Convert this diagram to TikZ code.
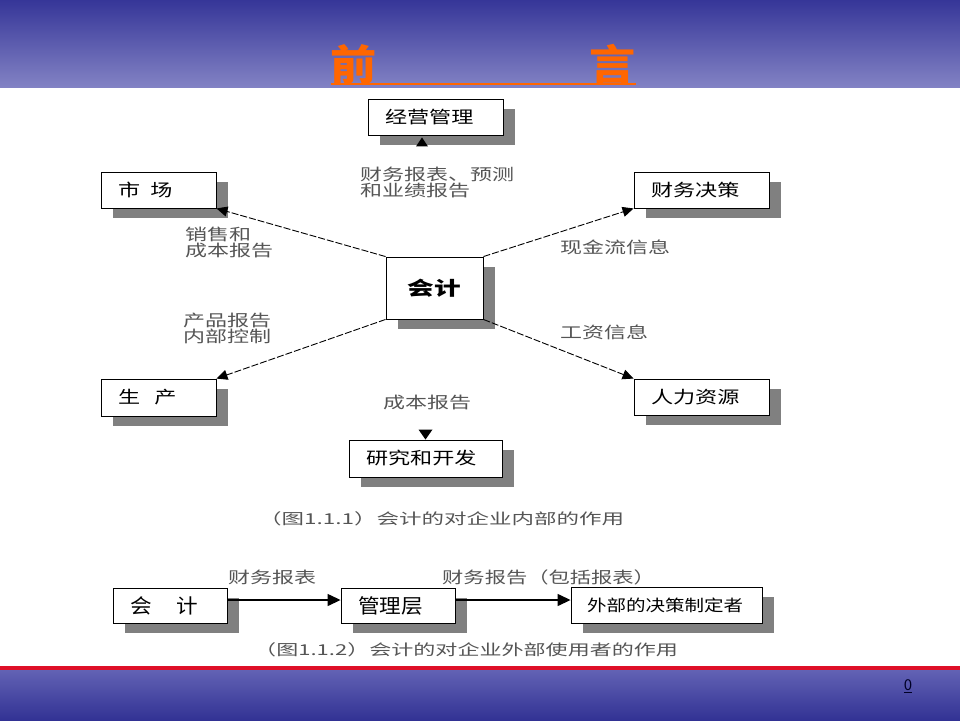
\documentclass[tikz,border=0pt]{standalone}
\usepackage{fontspec}
\setmainfont{Noto Sans CJK SC}
\usepackage{graphicx}
\usetikzlibrary{arrows.meta,calc,shadows}
\definecolor{hdtop}{RGB}{54,54,152}
\definecolor{hdbot}{RGB}{130,130,196}
\definecolor{fttop}{RGB}{98,98,180}
\definecolor{ftbot}{RGB}{50,50,148}
\definecolor{titleor}{RGB}{255,102,0}
\definecolor{shadowgray}{RGB}{128,128,128}
\definecolor{lblgray}{RGB}{85,85,85}
\definecolor{redline}{RGB}{222,16,40}
\newcommand\hsc[2]{\scalebox{#1}[1]{#2}}
\newcommand\bx[1]{{\fontsize{17}{17}\selectfont\hsc{1.3}{#1}}}
\newcommand\lb[1]{\hsc{1.375}{#1}}
\begin{document}
\begin{tikzpicture}[x=1pt,y=-1pt,
  box/.style={draw=black, line width=0.9pt, fill=white, inner ysep=0pt, inner xsep=17pt,
    align=left, drop shadow={shadow xshift=12pt, shadow yshift=-10pt, fill=shadowgray, opacity=1}},
  lbl/.style={inner sep=0pt, anchor=west, align=left, text=lblgray, font=\fontsize{16}{16}\selectfont},
  dasharrow/.style={line width=0.9pt, dash pattern=on 7pt off 2pt, -{Triangle[length=11pt,width=10pt]}},
  solarrow/.style={line width=1.4pt, -{Triangle[length=13pt,width=12pt]}},
  titlestyle/.style={inner sep=0pt, text=titleor, font=\fontsize{42}{42}\selectfont\bfseries}
]
\useasboundingbox (0,0) rectangle (960,720);
\fill[white] (0,0) rectangle (960,720);
\shade[top color=hdtop, bottom color=hdbot] (0,0) rectangle (960,87);
\shade[top color=fttop, bottom color=ftbot] (0,670) rectangle (960,720);
\fill[redline] (0,666) rectangle (960,670);

% title
\node[titlestyle] (t1) at (354,64) {\hsc{1.1}{前}};
\node[titlestyle] (t2) at (613,64) {\hsc{1.1}{言}};
\draw[titleor, line width=2.5pt] (t1.west |- 0,84) -- (t2.east |- 0,84);

% upper diagram boxes
\node[box, text width=101pt, minimum height=36pt] (jy) at (435.5,117) {\bx{经营管理}};
\node[box, text width=81pt, minimum height=36pt] (sc) at (158.5,190) {\bx{市\hspace{8pt}场}};
\node[box, inner xsep=0pt, minimum width=97pt, minimum height=62pt, align=center] (kj) at (434.5,288)
  {{\fontsize{19}{19}\selectfont\bfseries\hsc{1.4}{会计}}};
\node[box, text width=101pt, minimum height=36pt] (cw) at (701.5,190) {\bx{财务决策}};
\node[box, text width=101pt, minimum height=36pt] (rl) at (701.5,397) {\bx{人力资源}};
\node[box, text width=81pt, minimum height=37pt] (sch) at (158.5,397.5) {\bx{生\hspace{11pt}产}};
\node[box, text width=119pt, minimum height=37pt] (yf) at (425.5,458.5) {\bx{研究和开发}};

% labels
\node[lbl] (l1) at (360,182) {\lb{财务报表、预测}\\\lb{和业绩报告}};
\node[lbl] (l2) at (185,242) {\lb{销售和}\\\lb{成本报告}};
\node[lbl] (l3) at (183,328) {\lb{产品报告}\\\lb{内部控制}};
\node[lbl] (l4) at (560,247) {\lb{现金流信息}};
\node[lbl] (l5) at (560,332) {\lb{工资信息}};
\node[lbl] (l6) at (383,402) {\lb{成本报告}};
\node[lbl, font=\fontsize{15}{15}\selectfont] (c1) at (259,519) {\hsc{1.5}{（图1.1.1）会计的对企业内部的作用}};

% connectors
\draw[dasharrow] (kj.north west) -- (sc.south east);
\draw[dasharrow] (kj.north east) -- (cw.south west);
\draw[dasharrow] (kj.south west) -- (sch.north east);
\draw[dasharrow] (kj.south east) -- (rl.north west);
\fill ($(jy.south)+(-13.5,2)$) -- ++(6,9) -- ++(-12,0) -- cycle;
\fill (yf.north) -- ++(-7,-10) -- ++(14,0) -- cycle;

% lower diagram
\node[box, text width=80pt, minimum height=35pt, inner xsep=17pt] (bkj) at (170,605.5)
  {{\fontsize{20}{20}\selectfont\hsc{1.08}{会\hspace{23pt}计}}};
\node[box, text width=80pt, minimum height=35pt] (glc) at (398,605.5)
  {{\fontsize{20}{20}\selectfont\hsc{1.08}{管理层}}};
\node[box, text width=159pt, minimum height=36pt, inner xsep=16pt] (wb) at (666.5,605)
  {{\fontsize{16}{16}\selectfont\hsc{1.22}{外部的决策制定者}}};
\node[lbl] (l7) at (228,577) {\lb{财务报表}};
\node[lbl] (l8) at (442,577) {\hsc{1.33}{财务报告（包括报表）}};
\node[lbl, font=\fontsize{15}{15}\selectfont] (c2) at (254,650) {\hsc{1.47}{（图1.1.2）会计的对企业外部使用者的作用}};
\draw[solarrow] (bkj.east |- 0,600) -- (glc.west |- 0,600);
\draw[solarrow] (glc.east |- 0,600) -- (wb.west |- 0,600);

% page number
\node[inner sep=0pt, text=black!85!blue, font=\fontsize{15}{15}\selectfont] (pg) at (908,686) {\underline{0}};
\end{tikzpicture}
\end{document}
